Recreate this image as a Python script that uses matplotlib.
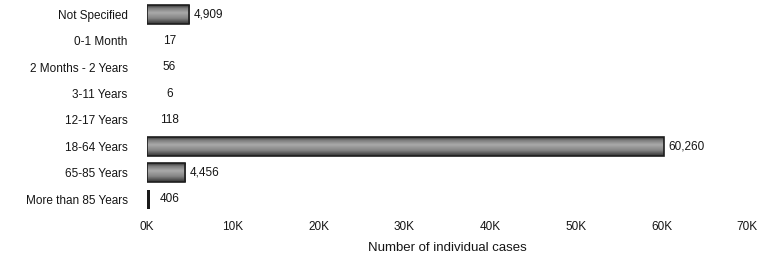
import matplotlib
matplotlib.use("Agg")
import matplotlib.pyplot as plt
import numpy as np
from matplotlib.colors import LinearSegmentedColormap
from matplotlib.ticker import FuncFormatter

categories = ["Not Specified", "0-1 Month", "2 Months - 2 Years", "3-11 Years",
              "12-17 Years", "18-64 Years", "65-85 Years", "More than 85 Years"]
values = [4909, 17, 56, 6, 118, 60260, 4456, 406]
xticks = [0, 10000, 20000, 30000, 40000, 50000, 60000, 70000]

plt.rcParams['font.family'] = ['Liberation Sans', 'DejaVu Sans']

fig = plt.figure(figsize=(7.64, 2.58), dpi=100)
ax = fig.add_axes([0.1924, 0.1775, 0.7856, 0.8174])

y = np.arange(len(categories))
bars = ax.barh(y, values, height=0.72, color='#808080', edgecolor='none',
               linewidth=0, zorder=2)

cmap = LinearSegmentedColormap.from_list(
    'g', [(0.0, '#303030'), (0.15, '#7a7a7a'), (0.4, '#aaaaaa'),
          (0.7, '#858585'), (1.0, '#333333')])
grad = np.linspace(0, 1, 64).reshape(-1, 1)
for b, v in zip(bars, values):
    if v < 300:
        b.set_visible(False)
        continue
    if v < 1000:
        b.set_color('#1a1a1a')
        continue
    x0, y0, w, h = b.get_x(), b.get_y(), b.get_width(), b.get_height()
    im = ax.imshow(grad, cmap=cmap, aspect='auto',
                   extent=(x0, x0 + w, y0 + h, y0), zorder=2.5,
                   interpolation='bilinear')
    im.set_clip_path(b)
    ax.add_patch(plt.Rectangle((x0, y0), w, h, fill=False,
                               edgecolor='#1e1e1e', linewidth=1.2, zorder=3))

for yi, v in zip(y, values):
    label = f"{v:,}"
    if v < 1000:
        ax.text(2600, yi, label, ha='center', va='center', fontsize=8.5,
                color='#151515', zorder=4)
    else:
        ax.annotate(label, (v, yi), xytext=(3.5, 0), textcoords='offset points',
                    ha='left', va='center', fontsize=8.5, color='#151515',
                    zorder=4)

ax.set_xlim(0, 70000)
ax.set_ylim(len(categories) - 0.5, -0.5)
ax.set_yticks(y)
ax.set_yticklabels(categories, fontsize=8.5, color='#151515')
ax.set_xticks(xticks)
ax.xaxis.set_major_formatter(FuncFormatter(lambda v, p: f"{int(v/1000)}K"))
ax.tick_params(axis='x', length=0, pad=6, labelsize=8.5, labelcolor='#151515')
ax.tick_params(axis='y', length=0, pad=14)
for s in ax.spines.values():
    s.set_visible(False)
ax.set_xlabel("Number of individual cases", fontsize=9.5, color='#151515',
              labelpad=7)

fig.savefig("out.png", dpi=100)
